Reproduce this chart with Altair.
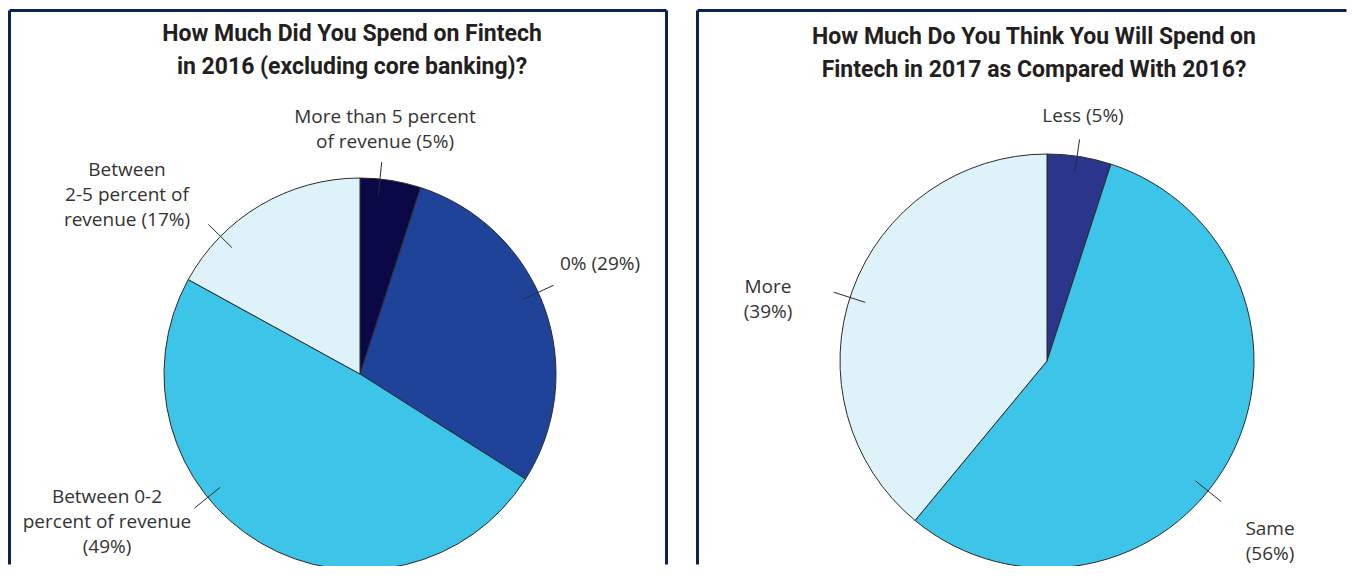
import altair as alt
import pandas as pd
import numpy as np

# ---- data ----
left_categories = ["More than 5 percent of revenue", "0%",
                   "Between 0-2 percent of revenue", "Between 2-5 percent of revenue"]
left_values = [5, 29, 49, 17]
left_colors = ["#0a0846", "#1f4399", "#3cc5e9", "#def2f9"]

right_categories = ["Less", "Same", "More"]
right_values = [5, 56, 39]
right_colors = ["#2a358b", "#3cc5e9", "#def2f9"]

left_title = ["How Much Did You Spend on Fintech", "in 2016 (excluding core banking)?"]
right_title = ["How Much Do You Think You Will Spend on", "Fintech in 2017 as Compared With 2016?"]

left_labels = [["More than 5 percent", "of revenue (5%)"], ["0% (29%)"],
               ["Between 0-2", "percent of revenue", "(49%)"],
               ["Between", "2-5 percent of", "revenue (17%)"]]
right_labels = [["Less (5%)"], ["Same", "(56%)"], ["More", "(39%)"]]

# ---- layout ----
H = 557
BORDER = "#0b2155"
TITLE_FONT = "Roboto, Liberation Sans, sans-serif"
LABEL_FONT = "Open Sans, Noto Sans, sans-serif"
# label anchors: (x, y of first line, align, leader target x, leader target y) in panel px
left_layout = dict(W=660, cx=352, cy=365, r=196, tx=344, ty=25, right_border=True,
                   lab=[(377, 108, "center", 377, 121), (552, 255, "left", 592, 255),
                        (99, 488, "center", 99, 570), (119, 161, "center", 119, 135)])
right_layout = dict(W=652, cx=351, cy=352, r=207, tx=338, ty=28, right_border=False,
                    lab=[(387, 107, "center", 387, 107), (574, 520, "center", 574, 532),
                         (72, 278, "center", 72, 262)])

one = pd.DataFrame({"a": [0]})


def panel(cats, vals, colors, title, labels, lay):
    W = lay["W"]
    xs = alt.Scale(domain=[0, W], range=[0, W])
    ys = alt.Scale(domain=[0, H], range=[0, H])
    n = len(cats)
    df = pd.DataFrame({"cat": cats, "value": vals, "idx": list(range(n))})
    r = lay["r"]
    # leader lines: cross the rim on the way from the pie centre towards each label
    ang = np.array([np.arctan2(l[3] - lay["cx"], -(l[4] - lay["cy"])) for l in lay["lab"]])
    lead = pd.DataFrame({
        "x1": lay["cx"] + (r - 16) * np.sin(ang), "y1": lay["cy"] - (r - 16) * np.cos(ang),
        "x2": lay["cx"] + (r + 17) * np.sin(ang), "y2": lay["cy"] - (r + 17) * np.cos(ang),
    })
    arc = alt.Chart(df).mark_arc(radius=r, stroke="#2b2b2b", strokeWidth=1, clip=True).encode(
        theta=alt.Theta("value:Q", stack=True),
        color=alt.Color("cat:N", scale=alt.Scale(domain=cats, range=colors), legend=None),
        order=alt.Order("idx:Q"),
        x=alt.value(lay["cx"]), y=alt.value(lay["cy"]),
    )
    rules = alt.Chart(lead).mark_rule(color="#2b2b2b", strokeWidth=1, clip=True).encode(
        x=alt.X("x1:Q", scale=xs, axis=None), y=alt.Y("y1:Q", scale=ys, axis=None),
        x2="x2:Q", y2="y2:Q",
    )
    layers = [arc, rules]
    # panel frame (left, top, optionally right), kept inside the view bounds
    frame = alt.Chart(one).mark_rule(color=BORDER, strokeWidth=3)
    layers.append(frame.encode(x=alt.value(1.5), y=alt.value(1.5), y2=alt.value(H - 1.5)))
    layers.append(frame.encode(x=alt.value(1.5), x2=alt.value(W - 1.5), y=alt.value(1.5)))
    if lay["right_border"]:
        layers.append(frame.encode(x=alt.value(W - 1.5), y=alt.value(1.5), y2=alt.value(H - 1.5)))
    t = alt.Chart(one).mark_text(
        font=TITLE_FONT, fontSize=23, fontWeight="bold", color="#231f20",
        align="center", baseline="middle", lineHeight=33,
    ).encode(x=alt.value(lay["tx"]), y=alt.value(lay["ty"]), text=alt.value(title))
    layers.append(t)
    for lab, (lx, ly, al, _, _) in zip(labels, lay["lab"]):
        layers.append(alt.Chart(one).mark_text(
            font=LABEL_FONT, fontSize=19, color="#333333", align=al,
            baseline="middle", lineHeight=25,
        ).encode(x=alt.value(lx), y=alt.value(ly), text=alt.value(lab)))
    return alt.layer(*layers).properties(width=W, height=H)


left = panel(left_categories, left_values, left_colors, left_title, left_labels, left_layout)
right = panel(right_categories, right_values, right_colors, right_title, right_labels, right_layout)

chart = alt.hconcat(left, right, spacing=28).resolve_scale(
    color="independent", x="independent", y="independent"
).properties(
    padding={"left": 0, "top": 1, "right": 0, "bottom": 0}
).configure_view(strokeWidth=0)

chart.save("out.html", embed_options={"renderer": "svg", "actions": False})
